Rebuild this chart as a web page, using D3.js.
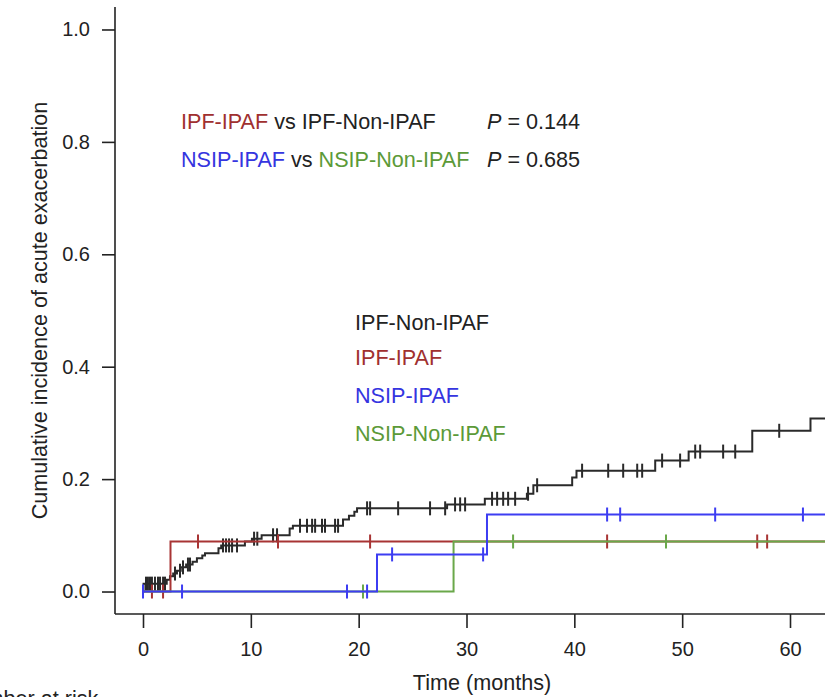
<!DOCTYPE html>
<html>
<head>
<meta charset="utf-8">
<script src="https://cdn.jsdelivr.net/npm/d3@7"></script>
<style>
  html, body { margin: 0; padding: 0; background: #fff; }
  svg { display: block; font-family: "Liberation Sans", Arial, Helvetica, sans-serif; }
</style>
</head>
<body>
<svg id="chart" width="825" height="697"></svg>
<script>
// ---- Data ----
const xTicks = [0, 10, 20, 30, 40, 50, 60];
const yTicks = [0.0, 0.2, 0.4, 0.6, 0.8, 1.0];

// IPF-Non-IPAF (black): step events [time, cumulative incidence]
const ipfNonIpafSteps = [
  [0.05, 0.014], [2.2, 0.021], [2.5, 0.027], [2.8, 0.032], [3.15, 0.037], [3.5, 0.043],
  [4.0, 0.048], [4.6, 0.053], [5.0, 0.059], [5.5, 0.064], [5.75, 0.068], [7.0, 0.077],
  [7.25, 0.082], [9.45, 0.089], [10.1, 0.094], [11.0, 0.100], [13.6, 0.112], [13.9, 0.117],
  [18.55, 0.128], [19.1, 0.135], [19.6, 0.142], [19.85, 0.148], [28.2, 0.155], [31.7, 0.165],
  [35.6, 0.174], [36.2, 0.189], [39.8, 0.203], [40.2, 0.215], [47.5, 0.233], [50.6, 0.249],
  [56.5, 0.286], [61.9, 0.308]
];
const ipfNonIpafCensor = [
  0.28, 0.46, 0.65, 0.83, 1.11, 1.39, 1.58, 1.86, 2.04,
  2.97, 3.43, 3.71, 4.17, 4.36,
  7.42, 7.70, 7.98, 8.26, 8.72,
  10.3, 10.6, 12.06, 12.43,
  14.56, 15.21, 15.68, 15.96, 16.6, 16.88, 17.81, 18.09,
  20.78, 21.06, 23.66, 26.62, 28.02,
  28.94, 29.41, 29.87,
  32.37, 32.84, 33.4, 33.86, 34.51,
  35.71, 36.55,
  40.72, 43.14, 44.53, 45.83, 46.29,
  48.14, 49.81,
  51.21, 51.67, 53.8, 54.92,
  59.0
];

// IPF-IPAF (red)
const ipfIpafSteps = [[2.55, 0.089]];
const ipfIpafCensor = [0.83, 1.86, 5.1, 12.52, 21.06, 43.04, 56.96, 57.88];

// NSIP-IPAF (blue)
const nsipIpafSteps = [[21.7, 0.066], [31.9, 0.137]];
const nsipIpafCensor = [0.0, 3.62, 18.92, 20.78, 23.1, 31.54, 43.04, 44.25, 53.06, 61.2];

// NSIP-Non-IPAF (green)
const nsipNonIpafSteps = [[28.8, 0.089]];
const nsipNonIpafCensor = [20.4, 34.32, 48.5];

const seriesNames = ["IPF-Non-IPAF", "IPF-IPAF", "NSIP-IPAF", "NSIP-Non-IPAF"];
const pValues = ["0.144", "0.685"];
const endTime = 64;

// ---- Layout ----
const svg = d3.select("#chart");
const colors = {
  "IPF-Non-IPAF": "#2a2a2a",
  "IPF-IPAF": "#a83434",
  "NSIP-IPAF": "#3d3df2",
  "NSIP-Non-IPAF": "#6aa84a"
};
const textColors = {
  "IPF-Non-IPAF": "#222222",
  "IPF-IPAF": "#a0302f",
  "NSIP-IPAF": "#3535e0",
  "NSIP-Non-IPAF": "#5c9a38"
};

const x = d3.scaleLinear().domain([0, 60]).range([143, 790]);
const y = d3.scaleLinear().domain([-0.04, 1.04]).range([614, 7]);

const fsTick = 20;
const fs = 21.6;

// axes
const yAxis = d3.axisLeft(y).tickValues(yTicks).tickFormat(d3.format(".1f")).tickSize(13).tickPadding(12);
const gy = svg.append("g").attr("transform", "translate(115,0)").call(yAxis);
gy.select(".domain").remove();
gy.append("line").attr("x1", 0).attr("x2", 0).attr("y1", y(1.04)).attr("y2", y(-0.04))
  .attr("stroke", "#222").attr("stroke-width", 1.6);
gy.selectAll(".tick line").attr("stroke", "#222").attr("stroke-width", 1.6);
gy.selectAll(".tick text").attr("font-size", fsTick).attr("fill", "#222").attr("font-family", "Liberation Sans, Arial, sans-serif");

const xAxis = d3.axisBottom(x).tickValues(xTicks).tickFormat(d3.format("d")).tickSize(14).tickPadding(14);
const gx = svg.append("g").attr("transform", "translate(0,614)").call(xAxis);
gx.select(".domain").remove();
gx.append("line").attr("x1", 115).attr("x2", 825).attr("y1", 0).attr("y2", 0)
  .attr("stroke", "#222").attr("stroke-width", 1.6);
gx.selectAll(".tick line").attr("stroke", "#222").attr("stroke-width", 1.6);
gx.selectAll(".tick text").attr("font-size", fsTick).attr("fill", "#222").attr("font-family", "Liberation Sans, Arial, sans-serif");

// axis titles
svg.append("text").attr("x", 482).attr("y", 690).attr("text-anchor", "middle")
  .attr("font-size", fs).attr("fill", "#222").text("Time (months)");
svg.append("text").attr("transform", `translate(47,${(y(0) + y(1)) / 2}) rotate(-90)`)
  .attr("text-anchor", "middle").attr("font-size", fs).attr("fill", "#222")
  .text("Cumulative incidence of acute exacerbation");
svg.append("text").attr("x", -42).attr("y", 706).attr("font-size", fs).attr("fill", "#222")
  .text("Number at risk");

// ---- curves ----
function valueAt(steps, t) {
  let v = 0;
  for (const [st, sv] of steps) { if (st <= t) v = sv; }
  return v;
}
function stepPoints(steps) {
  const pts = [[0, 0]];
  for (const [t, v] of steps) pts.push([t, v]);
  pts.push([endTime, steps[steps.length - 1][1]]);
  return pts;
}
const line = d3.line().x(d => x(d[0])).y(d => y(d[1])).curve(d3.curveStepAfter);

const series = [
  { name: "IPF-Non-IPAF", steps: ipfNonIpafSteps, censor: ipfNonIpafCensor },
  { name: "IPF-IPAF", steps: ipfIpafSteps, censor: ipfIpafCensor },
  { name: "NSIP-Non-IPAF", steps: nsipNonIpafSteps, censor: nsipNonIpafCensor },
  { name: "NSIP-IPAF", steps: nsipIpafSteps, censor: nsipIpafCensor }
];

const plot = svg.append("g");
series.forEach(s => {
  const g = plot.append("g");
  g.append("path").datum(stepPoints(s.steps)).attr("d", line)
    .attr("fill", "none").attr("stroke", colors[s.name]).attr("stroke-width", 2);
  g.selectAll("line.c").data(s.censor).enter().append("line").attr("class", "c")
    .attr("x1", d => x(d)).attr("x2", d => x(d))
    .attr("y1", d => y(valueAt(s.steps, d)) - 7).attr("y2", d => y(valueAt(s.steps, d)) + 7)
    .attr("stroke", colors[s.name]).attr("stroke-width", 2);
});

// ---- annotations ----
function richLine(xp, yp, parts) {
  const t = svg.append("text").attr("x", xp).attr("y", yp).attr("font-size", fs);
  parts.forEach(p => {
    const ts = t.append("tspan").attr("fill", p.c).text(p.t);
    if (p.i) ts.attr("font-style", "italic");
  });
  return t;
}
richLine(181, 129, [
  { t: seriesNames[1], c: textColors["IPF-IPAF"] },
  { t: " vs ", c: "#222" },
  { t: seriesNames[0], c: "#222" }
]);
richLine(181, 167, [
  { t: seriesNames[2], c: textColors["NSIP-IPAF"] },
  { t: " vs ", c: "#222" },
  { t: seriesNames[3], c: textColors["NSIP-Non-IPAF"] }
]);
richLine(487, 129, [{ t: "P", c: "#222", i: true }, { t: " = " + pValues[0], c: "#222" }]);
richLine(487, 167, [{ t: "P", c: "#222", i: true }, { t: " = " + pValues[1], c: "#222" }]);

// legend
const legendY = [330, 365, 403, 441];
seriesNames.forEach((n, i) => {
  svg.append("text").attr("x", 355).attr("y", legendY[i]).attr("font-size", fs)
    .attr("fill", textColors[n]).text(n);
});
</script>
</body>
</html>
